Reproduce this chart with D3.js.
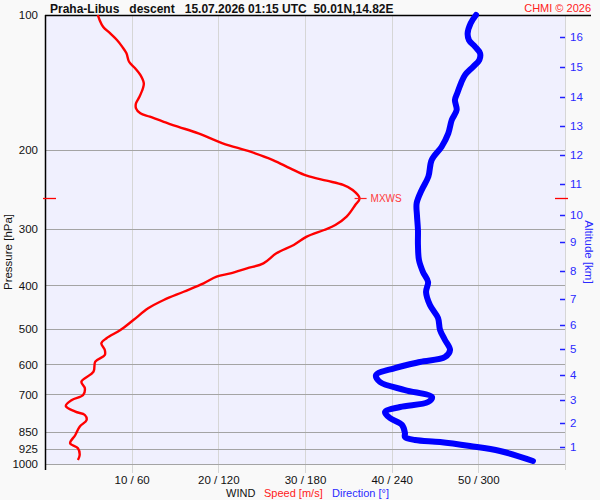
<!DOCTYPE html>
<html><head><meta charset="utf-8">
<script src="https://cdn.jsdelivr.net/npm/d3@7"></script>
<style>
html,body{margin:0;padding:0;background:#f9f9f9;}
svg{display:block;font-family:"Liberation Sans",Arial,sans-serif;}
</style></head>
<body>
<svg id="c" width="600" height="500"></svg>
<script>
// ---- data ----
const titleText = "Praha-Libus   descent   15.07.2026 01:15 UTC  50.01N,14.82E";
const creditText = "CHMI \u00a9 2026";
const pressureTicks = [100,200,300,400,500,600,700,850,925,1000];
const windTicks = [10,20,30,40,50,60];
const windTickLabels = ["10 / 60","20 / 120","30 / 180","40 / 240","50 / 300",""];
const altitudeKm = [1,2,3,4,5,6,7,8,9,10,11,12,13,14,15,16];
const altitudePressure = [915,809,720,634,555,491,428,372,321,279,238,205,177,152,130.5,112];

const speedPressure = [100,102.6,106.2,109.8,113.7,117.6,121.7,127.1,131.4,136.0,141.9,145.6,152.1,157.3,161.4,165.6,168.5,172.9,177.4,183.5,193.1,201.6,210.4,219.5,228.0,233.9,239.1,245.3,256.0,265.0,281.3,293.6,301.2,311.7,325.2,339.4,357.3,366.6,376.2,382.7,395.9,413.4,431.3,450.1,477.9,503.0,524.8,538.5,557.3,571.8,591.8,622.9,655.7,678.3,702.0,720.2,742.7,764.7,777.9,798.0,825.9,861.8,899.3,922.6,954.9,979.8];
const speedValues = [6.1,6.3,6.7,7.5,8.3,8.9,9.4,9.7,10.4,11.0,11.4,11.3,10.9,10.5,10.5,11.0,12.1,13.7,15.4,17.7,20.5,23.7,26.3,28.3,30.2,32.5,34.4,35.5,36.3,35.8,34.8,33.5,32.2,30.2,28.7,26.7,25.2,23.3,21.4,19.8,18.3,16.0,13.7,11.9,10.2,8.7,7.1,6.5,6.9,6.9,5.8,5.6,4.2,4.6,4.4,3.1,2.4,3.5,4.6,4.8,4.0,3.5,2.9,3.8,4.0,3.8];

const dirPressure = [100,104.3,109.8,113.7,117.6,121.7,125.9,130.3,136.0,141.9,149.4,154.6,162.7,171.4,183.5,196.5,210.4,229.1,245.3,262.7,278.9,301.2,325.2,351.3,373.7,393.3,414.0,442.5,473.0,503.0,529.4,557.3,577.8,592.7,611.3,633.6,656.7,684.3,709.5,727.8,746.6,766.0,790.0,818.7,853.1,870.9,884.2,893.3,912.0,935.6,984.6];
const dirValues = [298.4,294.7,292.6,293.5,297.7,301.2,300.7,296.5,290.8,288.0,285.4,283.8,285.0,281.6,279.2,274.6,267.7,265.4,260.8,257.3,257.5,258.2,258.2,258.9,261.7,265.2,263.8,266.5,272.1,273.5,276.9,280.4,276.9,259.6,242.3,229.2,231.9,249.2,267.9,265.2,245.8,235.4,238.8,247.2,249.2,249.2,256.2,273.5,294.2,315.0,337.8];

// ---- layout ----
const L = 45, R = 565, T = 15, B = 464;
const svg = d3.select("#c");
const y = d3.scaleLog().domain([100,1000]).range([T,B]);
const xs = d3.scaleLinear().domain([0,60]).range([L,R]);
const xd = d3.scaleLinear().domain([0,360]).range([L,R]);
const FONT = "Liberation Sans, Arial, sans-serif";

svg.append("rect").attr("x",0).attr("y",0).attr("width",600).attr("height",500).attr("fill","#f9f9f9");
svg.append("rect").attr("x",L).attr("y",T).attr("width",R-L).attr("height",B-T).attr("fill","#f0f0fe");

// vertical grid
svg.append("g").selectAll("line").data(windTicks).join("line")
  .attr("x1",d=>Math.round(xs(d))+0.5).attr("x2",d=>Math.round(xs(d))+0.5)
  .attr("y1",T).attr("y2",d=>d===60?470:473)
  .attr("stroke","#d6d6d6").attr("stroke-width",1);
// horizontal grid
svg.append("g").selectAll("line").data(pressureTicks.filter(d=>d>100)).join("line")
  .attr("x1",L).attr("x2",R).attr("y1",d=>Math.round(y(d))+0.5).attr("y2",d=>Math.round(y(d))+0.5)
  .attr("stroke","#a4a4a4").attr("stroke-width",1);

// frame lines
svg.append("line").attr("x1",L).attr("x2",591).attr("y1",T+0.5).attr("y2",T+0.5).attr("stroke","#000").attr("stroke-width",1.5);
svg.append("line").attr("x1",L+0.5).attr("x2",L+0.5).attr("y1",T).attr("y2",470).attr("stroke","#000").attr("stroke-width",1.5);

// left pressure axis
const ya = svg.append("g").attr("transform",`translate(${L},0)`)
  .call(d3.axisLeft(y).tickValues(pressureTicks).tickFormat(d3.format("d")).tickSize(0).tickPadding(7));
ya.select(".domain").remove();
ya.selectAll("text").attr("font-size",11.5).attr("fill","#111").attr("font-family",FONT);

// bottom wind axis labels
const xa = svg.append("g").attr("transform",`translate(0,${B})`)
  .call(d3.axisBottom(xs).tickValues(windTicks).tickFormat((d,i)=>windTickLabels[i]).tickSize(0).tickPadding(12));
xa.select(".domain").remove();
xa.selectAll("text").attr("font-size",11.5).attr("fill","#111").attr("font-family",FONT);

// right altitude axis
const ra = svg.append("g").attr("transform",`translate(${R},0)`);
ra.selectAll("line.t").data(altitudeKm).join("line").attr("class","t")
  .attr("x1",-5).attr("x2",0).attr("y1",(d,i)=>Math.round(y(altitudePressure[i]))+0.5).attr("y2",(d,i)=>Math.round(y(altitudePressure[i]))+0.5)
  .attr("stroke","#2020ff").attr("stroke-width",1.5);
ra.selectAll("text").data(altitudeKm).join("text")
  .attr("x",5).attr("y",(d,i)=>y(altitudePressure[i])).attr("dy","0.35em")
  .attr("font-size",11.5).attr("fill","#2a2aff").text(d=>d);

// axis titles
svg.append("text").attr("transform","translate(12,252) rotate(-90)").attr("text-anchor","middle")
  .attr("font-size",11.5).attr("fill","#111").text("Pressure [hPa]");
svg.append("text").attr("transform","translate(585,252) rotate(90)").attr("text-anchor","middle")
  .attr("font-size",11.5).attr("fill","#2a2aff").text("Altitude [km]");

// legend
const legY = 497;
svg.append("text").attr("x",226).attr("y",legY).attr("font-size",11).attr("fill","#111").text("WIND");
svg.append("text").attr("x",264).attr("y",legY).attr("font-size",11).attr("fill","#ff2020").text("Speed [m/s]");
svg.append("text").attr("x",332).attr("y",legY).attr("font-size",11).attr("fill","#2a2aff").text("Direction [\u00b0]");

// title
svg.append("text").attr("x",50).attr("y",13).attr("font-size",12).attr("font-weight","bold")
  .attr("fill","#111").attr("xml:space","preserve").style("white-space","pre").text(titleText);
svg.append("text").attr("x",591).attr("y",12).attr("text-anchor","end").attr("font-size",11)
  .attr("fill","#ff2020").text(creditText);

// direction line
const dirData = dirPressure.map((p,i)=>[dirValues[i],p]);
svg.append("path").datum(dirData)
  .attr("d",d3.line().x(d=>xd(d[0])).y(d=>y(d[1])).curve(d3.curveCatmullRom))
  .attr("fill","none").attr("stroke","#0000ff").attr("stroke-width",6).attr("stroke-linecap","round").attr("stroke-linejoin","round");

// speed line
const spdData = speedPressure.map((p,i)=>[speedValues[i],p]);
svg.append("path").datum(spdData)
  .attr("d",d3.line().x(d=>xs(d[0])).y(d=>y(d[1])).curve(d3.curveCatmullRom))
  .attr("fill","none").attr("stroke","#ff0000").attr("stroke-width",2.4).attr("stroke-linejoin","round");

// max wind marker
const mi = d3.maxIndex(speedValues);
const mx = xs(speedValues[mi]), my = Math.round(y(speedPressure[mi]))+0.5;
svg.append("line").attr("x1",mx-5).attr("x2",mx+7).attr("y1",my).attr("y2",my).attr("stroke","#ff2020").attr("stroke-width",1.2);
svg.append("text").attr("x",mx+11).attr("y",my).attr("dy","0.35em").attr("font-size",10).attr("fill","#ff3a3a").text("MXWS");
svg.append("line").attr("x1",43).attr("x2",56).attr("y1",my).attr("y2",my).attr("stroke","#ff0000").attr("stroke-width",1.3);
svg.append("line").attr("x1",555).attr("x2",568).attr("y1",my).attr("y2",my).attr("stroke","#ff0000").attr("stroke-width",1.3);
</script>
</body></html>
